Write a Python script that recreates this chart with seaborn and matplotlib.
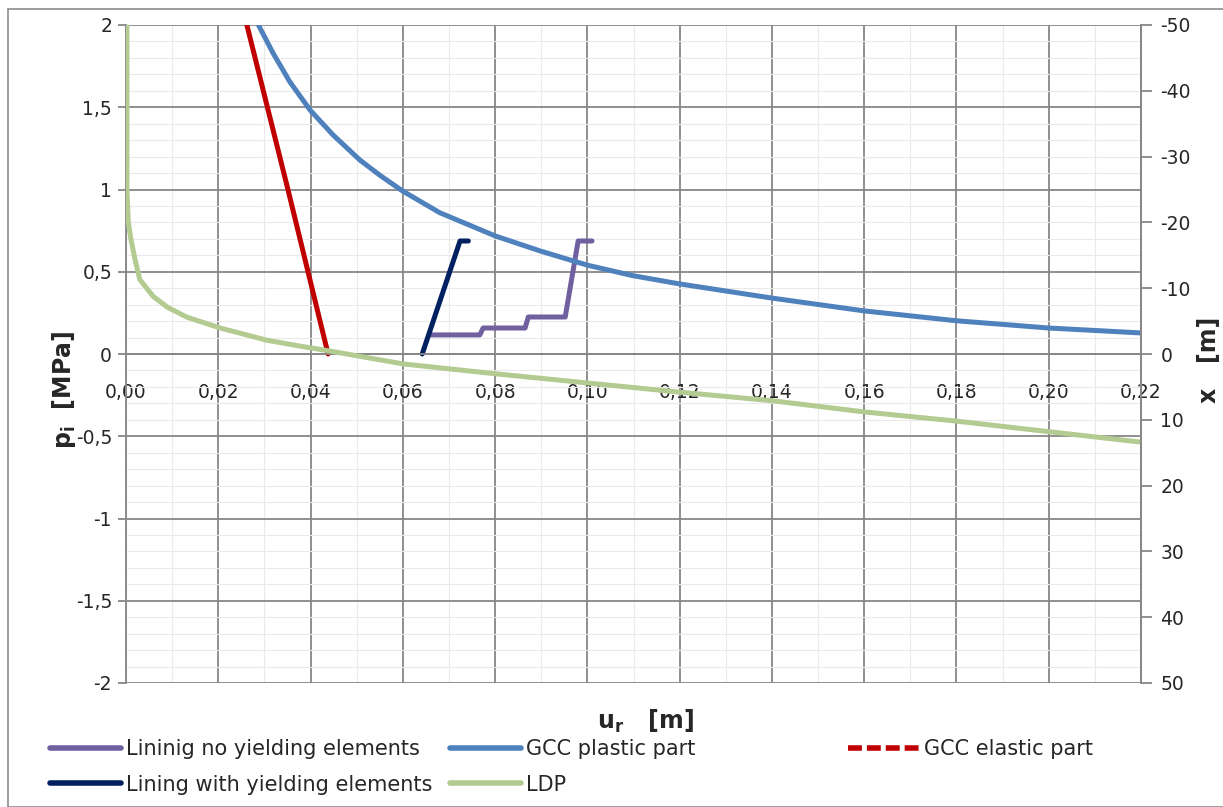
import seaborn as sns
import pandas as pd
import matplotlib
matplotlib.use('Agg')
import matplotlib.pyplot as plt
from matplotlib.lines import Line2D
from matplotlib.patches import Rectangle
from matplotlib.ticker import MultipleLocator, FuncFormatter

# data
u_no_yield = [0.0660, 0.0767, 0.0774, 0.0865, 0.0872, 0.0952, 0.0980, 0.1010]
p_no_yield = [0.116, 0.116, 0.158, 0.158, 0.225, 0.225, 0.687, 0.687]

u_yield = [0.0642, 0.0724, 0.0742]
p_yield = [0.0, 0.687, 0.687]

u_gcc_plastic = [0.0287, 0.0319, 0.0355, 0.0399, 0.0449, 0.0507, 0.0551, 0.0600,
                 0.0680, 0.0800, 0.0897, 0.1000, 0.1099, 0.1200, 0.1400, 0.1600,
                 0.1800, 0.2000, 0.2200]
p_gcc_plastic = [2.000, 1.828, 1.655, 1.483, 1.331, 1.179, 1.085, 0.990,
                 0.859, 0.718, 0.627, 0.540, 0.476, 0.426, 0.340, 0.262,
                 0.202, 0.158, 0.128]

u_gcc_elastic = [0.0262, 0.0351, 0.0438]
p_gcc_elastic = [2.0, 1.0, 0.0]

# LDP is u_r against distance from the face x [m] (right axis)
u_ldp = [0.0002, 0.0002, 0.0005, 0.0010, 0.0020, 0.0030, 0.0059, 0.0090, 0.0132,
         0.0204, 0.0305, 0.0377, 0.0438, 0.0600, 0.0800, 0.1000, 0.1200, 0.1400,
         0.1600, 0.1800, 0.2000, 0.2200]
x_ldp = [-50.0, -25.0, -20.0, -17.7, -14.2, -11.3, -8.75, -7.1, -5.6,
         -3.95, -2.1, -1.2, -0.5, 1.5, 3.0, 4.4, 5.8, 7.1,
         8.8, 10.2, 11.8, 13.4]

c_purple = '#7060A0'
c_blue = '#4F81BD'
c_red = '#C00000'
c_navy = '#002060'
c_green = '#B3CB91'
c_grid = '#878787'

sns.set_style('white')
plt.rcParams['font.family'] = ['DejaVu Sans']
plt.rcParams['axes.unicode_minus'] = False

fig = plt.figure(figsize=(12.23, 8.07), dpi=100)
ax = fig.add_axes([126/1223, 1-683/807, 1015/1223, 658/807])
ax2 = ax.twinx()

lw = 3.6
kw = dict(lw=lw, sort=False, estimator=None, solid_joinstyle='round', solid_capstyle='round')
sns.lineplot(x=u_no_yield, y=p_no_yield, ax=ax, color=c_purple, **kw)
sns.lineplot(x=u_gcc_plastic, y=p_gcc_plastic, ax=ax, color=c_blue, **kw)
sns.lineplot(x=u_gcc_elastic, y=p_gcc_elastic, ax=ax, color=c_red, **kw)
sns.lineplot(x=u_yield, y=p_yield, ax=ax, color=c_navy, **kw)
sns.lineplot(x=u_ldp, y=x_ldp, ax=ax2, color=c_green, **kw)

# left axis
ax.set_xlim(0, 0.22)
ax.set_ylim(-2, 2)
ax.xaxis.set_major_locator(MultipleLocator(0.02))
ax.xaxis.set_minor_locator(MultipleLocator(0.01))
ax.yaxis.set_major_locator(MultipleLocator(0.5))
ax.yaxis.set_minor_locator(MultipleLocator(0.1))
ax.grid(True, which='major', color=c_grid, lw=1.3)
ax.grid(True, which='minor', color='#EAEAEA', lw=0.8)
ax.set_axisbelow(True)

def fmt_p(v, pos):
    return ('%g' % round(v, 2)).replace('.', ',')
ax.yaxis.set_major_formatter(FuncFormatter(fmt_p))
ax.xaxis.set_major_formatter(FuncFormatter(lambda v, pos: ('%.2f' % v).replace('.', ',')))

ax.spines['bottom'].set_position(('data', 0))
for s in ['bottom', 'left', 'top', 'right']:
    ax.spines[s].set_color(c_grid)
    ax.spines[s].set_linewidth(1.3)
ax.spines['top'].set_visible(False)
ax.tick_params(axis='x', which='both', length=0, pad=21, labelsize=13.5)
ax.tick_params(axis='y', which='major', length=6, color=c_grid, width=1.3, labelsize=13.5, pad=4)
ax.tick_params(axis='y', which='minor', length=0)

ax.set_xlabel(r'$\mathbf{u_r}$   [m]', fontsize=17, fontweight='bold')
ax.xaxis.set_label_coords(0.512, -0.037)
ax.set_ylabel(r'$\mathbf{p_i}$  [MPa]', fontsize=17, fontweight='bold')
ax.yaxis.set_label_coords(-0.047, 0.445)

# right axis
ax2.set_ylim(50, -50)
ax2.yaxis.set_major_locator(MultipleLocator(10))
ax2.yaxis.set_major_formatter(FuncFormatter(lambda v, pos: '%d' % v))
ax2.tick_params(axis='y', length=8, color=c_grid, width=1.3, labelsize=13.5, pad=6)
for s in ['bottom', 'left', 'top', 'right']:
    ax2.spines[s].set_visible(False)
ax2.spines['right'].set_visible(True)
ax2.spines['right'].set_color(c_grid)
ax2.spines['right'].set_linewidth(1.3)
ax2.set_ylabel('x   [m]', fontsize=17, fontweight='bold', rotation=90)
ax2.yaxis.set_label_coords(1.055, 0.491)
ax2.grid(False)

# legend in three columns, placed like the spreadsheet one
lfont = {'family': ['DejaVu Sans'], 'size': 15}
def make_handle(color, ls='-'):
    return Line2D([0], [0], color=color, lw=4, ls=ls)

legend_cols = [
    ([make_handle(c_purple), make_handle(c_navy)],
     ['Lininig no yielding elements', 'Lining with yielding elements'], 50),
    ([make_handle(c_blue), make_handle(c_green)],
     ['GCC plastic part', 'LDP'], 450),
    ([make_handle(c_red, (0, (2.5, 0.9)))],
     ['GCC elastic part'], 848),
]
for handles, labels, px in legend_cols:
    fig.legend(handles, labels, loc='upper left', bbox_to_anchor=(px/1223, 1-739/807),
               frameon=False, prop=lfont, handlelength=3.4, handletextpad=0.25,
               borderpad=0, borderaxespad=0, labelspacing=0.75)

# outer chart border
fig.patches.append(Rectangle((8/1223, 0), 1, 1-9/807, transform=fig.transFigure,
                             fill=False, edgecolor='#8C8C8C', lw=1.2))

fig.savefig('out.png', dpi=100)
